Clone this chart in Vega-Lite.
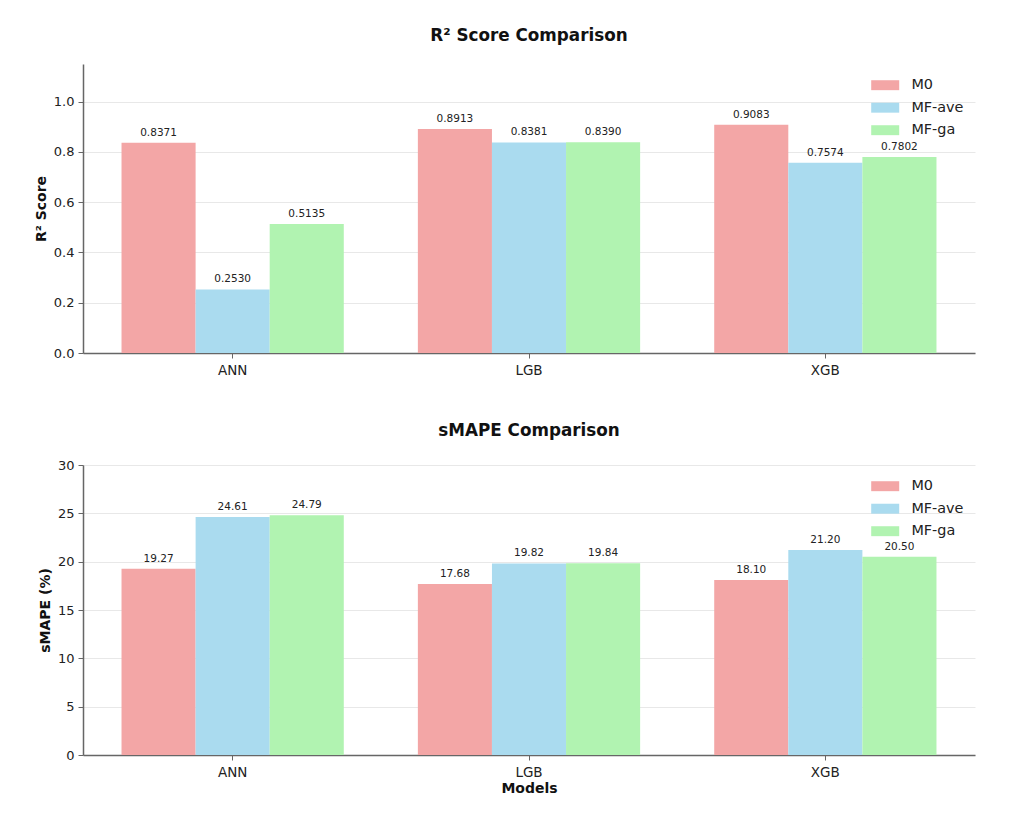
{
  "$schema": "https://vega.github.io/schema/vega-lite/v6.json",
  "background": "white",
  "padding": {"left": 34, "top": 28, "right": 20, "bottom": 10},
  "data": {
    "values": [
      {"model": "ANN", "method": "M0", "r2": 0.8371, "smape": 19.27},
      {"model": "ANN", "method": "MF-ave", "r2": 0.2530, "smape": 24.61},
      {"model": "ANN", "method": "MF-ga", "r2": 0.5135, "smape": 24.79},
      {"model": "LGB", "method": "M0", "r2": 0.8913, "smape": 17.68},
      {"model": "LGB", "method": "MF-ave", "r2": 0.8381, "smape": 19.82},
      {"model": "LGB", "method": "MF-ga", "r2": 0.8390, "smape": 19.84},
      {"model": "XGB", "method": "M0", "r2": 0.9083, "smape": 18.10},
      {"model": "XGB", "method": "MF-ave", "r2": 0.7574, "smape": 21.20},
      {"model": "XGB", "method": "MF-ga", "r2": 0.7802, "smape": 20.50}
    ]
  },
  "spacing": 46,
  "vconcat": [
    {
      "title": {"text": "R² Score Comparison", "offset": 19},
      "width": 892,
      "height": 289,
      "encoding": {
        "x": {"field": "model", "type": "nominal", "title": null,
              "scale": {"paddingInner": 0.25, "paddingOuter": 0.13}},
        "xOffset": {"field": "method", "type": "nominal", "scale": {"paddingInner": 0}},
        "y": {"field": "r2", "type": "quantitative", "title": "R² Score",
              "scale": {"domain": [0, 1.15], "nice": false},
              "axis": {"values": [0, 0.2, 0.4, 0.6, 0.8, 1.0], "format": ".1f"}}
      },
      "layer": [
        {
          "mark": {"type": "bar"},
          "encoding": {
            "color": {"field": "method", "type": "nominal", "title": null,
                      "scale": {"domain": ["M0", "MF-ave", "MF-ga"], "range": ["#f3a6a6", "#aadbef", "#b1f3b1"]},
                      "legend": {"orient": "none", "legendX": 795, "legendY": 14}}
          }
        },
        {
          "mark": {"type": "text", "baseline": "bottom", "dy": -5, "fontSize": 10.5, "color": "#222"},
          "encoding": {"text": {"field": "r2", "type": "quantitative", "format": ".4f"}}
        }
      ]
    },
    {
      "title": {"text": "sMAPE Comparison", "offset": 19},
      "width": 892,
      "height": 290,
      "encoding": {
        "x": {"field": "model", "type": "nominal", "title": "Models",
              "scale": {"paddingInner": 0.25, "paddingOuter": 0.13}},
        "xOffset": {"field": "method", "type": "nominal", "scale": {"paddingInner": 0}},
        "y": {"field": "smape", "type": "quantitative", "title": "sMAPE (%)",
              "scale": {"domain": [0, 30], "nice": false},
              "axis": {"values": [0, 5, 10, 15, 20, 25, 30]}}
      },
      "layer": [
        {
          "mark": {"type": "bar"},
          "encoding": {
            "color": {"field": "method", "type": "nominal", "title": null,
                      "scale": {"domain": ["M0", "MF-ave", "MF-ga"], "range": ["#f3a6a6", "#aadbef", "#b1f3b1"]},
                      "legend": {"orient": "none", "legendX": 795, "legendY": 14}}
          }
        },
        {
          "mark": {"type": "text", "baseline": "bottom", "dy": -5, "fontSize": 10.5, "color": "#222"},
          "encoding": {"text": {"field": "smape", "type": "quantitative", "format": ".2f"}}
        }
      ]
    }
  ],
  "resolve": {"scale": {"color": "independent"}, "legend": {"color": "independent"}},
  "config": {
    "font": "DejaVu Sans",
    "view": {"stroke": null},
    "title": {"fontSize": 16.8, "fontWeight": "bold", "color": "#111", "anchor": "middle"},
    "axis": {
      "labelFont": "DejaVu Sans", "labelFontSize": 13, "labelColor": "#222",
      "titleFont": "DejaVu Sans", "titleFontSize": 14, "titleFontWeight": "bold", "titleColor": "#111",
      "domainColor": "#666", "domainWidth": 1.5, "tickColor": "#666", "tickSize": 5, "labelPadding": 4
    },
    "axisX": {"labelAngle": 0, "grid": false, "titlePadding": 3, "labelFontSize": 13.5, "labelPadding": 5},
    "axisY": {"grid": true, "gridColor": "#e8e8e8", "gridWidth": 1, "titlePadding": 5},
    "legend": {
      "labelFont": "DejaVu Sans", "labelFontSize": 14.4, "labelColor": "#222",
      "symbolType": "M-2,-0.71H2V0.71H-2Z", "symbolSize": 196, "symbolStrokeWidth": 0,
      "rowPadding": 7.5, "labelOffset": 19, "padding": 0
    }
  }
}
